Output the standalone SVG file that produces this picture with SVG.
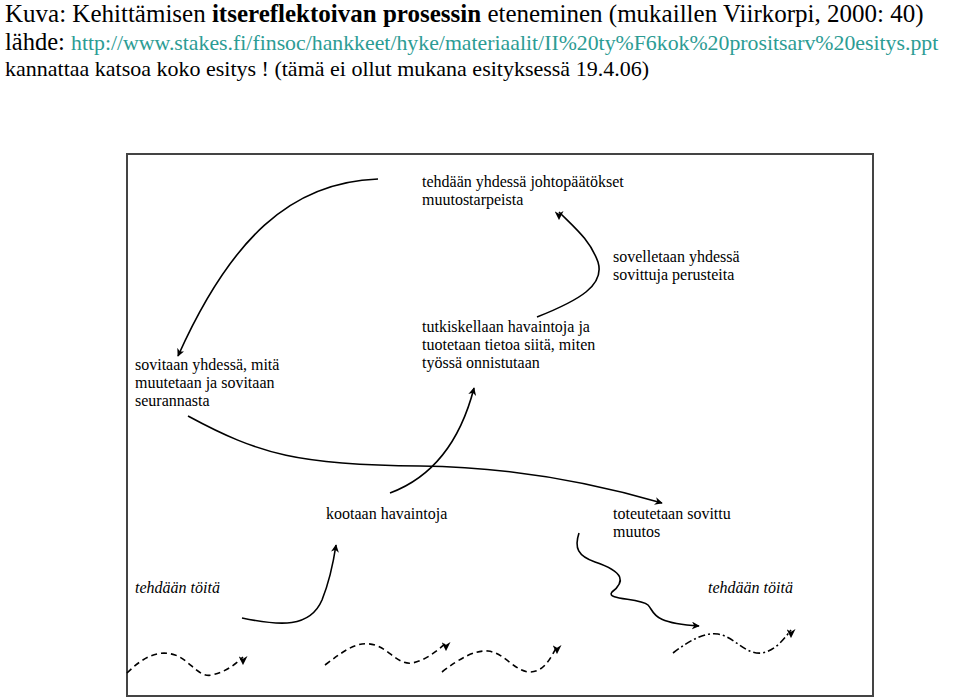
<svg xmlns="http://www.w3.org/2000/svg" width="959" height="698" viewBox="0 0 959 698">
<defs>
<style>
text{font-family:"Liberation Serif","Times New Roman",serif;fill:#000}
.h{font-size:25px}
.hs{font-size:24.5px}
.u{font-size:21.8px;fill:#2c9c94}
.s{font-size:22px}
.t{font-size:16px}
.i{font-size:16px;font-style:italic}
.c{fill:none;stroke:#000;stroke-width:1.6}
.d{stroke-dasharray:6 4}
.dd{stroke-dasharray:7 3 2 3}
</style>
<marker id="ah" viewBox="0 0 10 10" refX="9" refY="5" markerWidth="8" markerHeight="8" markerUnits="userSpaceOnUse" orient="auto">
<path d="M0,0 L10,5 L0,10 L3,5 z" fill="#000"/>
</marker>
<marker id="dn" viewBox="0 0 10 10" refX="5" refY="1" markerWidth="9" markerHeight="9" markerUnits="userSpaceOnUse" orient="0">
<path d="M0,0 L5,3 L10,0 L5,10 z" fill="#000"/>
</marker>
</defs>
<rect width="959" height="698" fill="#fff"/>
<g id="title">
<text class="h" x="5" y="22">Kuva: Kehittämisen <tspan font-weight="bold">itsereflektoivan prosessin</tspan> eteneminen (mukaillen Viirkorpi, 2000: 40)</text>
<text x="5" y="50"><tspan class="hs">lähde: </tspan><tspan class="u">http://www.stakes.fi/finsoc/hankkeet/hyke/materiaalit/II%20ty%F6kok%20prositsarv%20esitys.ppt</tspan></text>
<text class="s" x="5" y="76">kannattaa katsoa koko esitys ! (tämä ei ollut mukana esityksessä 19.4.06)</text>
</g>
<rect id="frame" x="127" y="154" width="746" height="542" fill="none" stroke="#444" stroke-width="2"/>
<g id="n1"><text class="t" x="422" y="187">tehdään yhdessä johtopäätökset</text><text class="t" x="422" y="205">muutostarpeista</text></g>
<g id="n2"><text class="t" x="613" y="262">sovelletaan yhdessä</text><text class="t" x="613" y="280">sovittuja perusteita</text></g>
<g id="n3"><text class="t" x="422" y="332">tutkiskellaan havaintoja ja</text><text class="t" x="422" y="350">tuotetaan tietoa siitä, miten</text><text class="t" x="422" y="368">työssä onnistutaan</text></g>
<g id="n4"><text class="t" x="135" y="370">sovitaan yhdessä, mitä</text><text class="t" x="135" y="388">muutetaan ja sovitaan</text><text class="t" x="135" y="406">seurannasta</text></g>
<g id="n5"><text class="t" x="326" y="519">kootaan havaintoja</text></g>
<g id="n6"><text class="t" x="613" y="519">toteutetaan sovittu</text><text class="t" x="613" y="537">muutos</text></g>
<g id="n7"><text class="i" x="135" y="593">tehdään töitä</text></g>
<g id="n8"><text class="i" x="708" y="593">tehdään töitä</text></g>
<g id="connectors">
<path class="c" marker-end="url(#ah)" d="M378,179 C290,182 230,240 178,356"/>
<path class="c" marker-end="url(#dn)" d="M537,317 C580,300 605,285 598,262 C590,240 575,228 559,212"/>
<path class="c" marker-end="url(#ah)" d="M188,416 C260,455 300,465 420,466 C520,467 600,485 662,503"/>
<path class="c" marker-end="url(#ah)" d="M390,493 C425,480 458,450 474,388"/>
<path class="c" marker-end="url(#ah)" d="M242,618 C280,626 310,628 322,600 C330,580 333,565 336,545"/>
<path class="c" marker-end="url(#ah)" d="M579,533 C574,548 578,556 595,562 C625,572 625,582 612,592 C605,600 640,598 648,605 C655,612 650,623 699,626"/>
<path class="c d" marker-end="url(#dn)" d="M127,673 C145,655 160,650 175,655 C190,660 198,678 212,675 C225,672 235,665 243,657"/>
<path class="c d" marker-end="url(#dn)" d="M325,665 C345,650 358,640 375,645 C390,650 398,665 412,663 C425,661 438,650 446,643"/>
<path class="c d" marker-end="url(#dn)" d="M442,672 C460,658 475,650 488,651 C505,653 515,672 530,672 C543,672 550,660 557,646"/>
<path class="c dd" marker-end="url(#dn)" d="M673,653 C690,640 705,632 718,634 C735,637 745,655 762,653 C775,651 785,638 791,630"/>
</g>
</svg>
